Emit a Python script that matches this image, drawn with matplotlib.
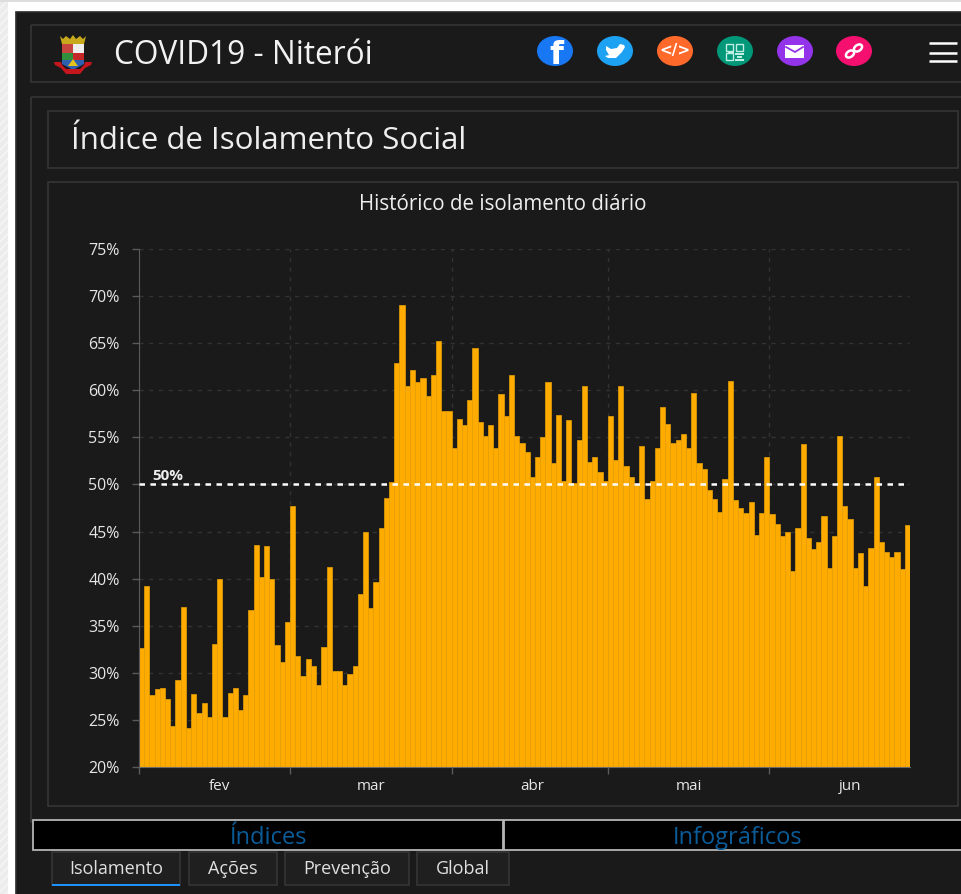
import matplotlib
matplotlib.use("Agg")
import matplotlib.pyplot as plt
import matplotlib.dates as mdates
from matplotlib.patches import Rectangle, Ellipse, Polygon
import pandas as pd

# daily values, first day 1 feb 2020
isolamento_fev = [32.6, 39.2, 27.6, 28.3, 28.4, 27.2, 24.4, 29.2, 37.0, 24.1,
                  27.7, 25.7, 26.8, 25.3, 33.1, 40.0, 25.3, 27.9, 28.4, 26.1,
                  27.6, 36.7, 43.6, 40.2, 43.5, 40.0, 33.0, 31.1, 35.4]
isolamento_mar = [47.7, 31.8, 29.7, 31.5, 30.7, 28.7, 32.7, 41.2, 30.2, 30.2,
                  28.7, 29.9, 30.7, 38.4, 45.0, 36.9, 39.6, 45.4, 48.6, 50.3,
                  62.9, 69.1, 60.5, 62.1, 60.9, 61.3, 59.4, 61.6, 65.2, 57.8,
                  57.8]
isolamento_abr = [53.9, 57.0, 56.3, 59.0, 64.5, 56.6, 55.1, 56.3, 53.9, 59.6,
                  57.3, 61.6, 55.1, 54.4, 53.4, 50.8, 52.9, 55.0, 60.9, 52.3,
                  57.4, 50.4, 56.8, 50.2, 54.7, 60.5, 52.4, 52.9, 51.3, 50.4]
isolamento_mai = [57.3, 52.6, 60.5, 52.0, 50.8, 49.9, 54.1, 48.5, 50.4, 53.9,
                  58.2, 56.4, 54.4, 54.7, 55.4, 53.9, 59.7, 52.3, 51.6, 49.4,
                  48.5, 47.1, 50.6, 61.0, 48.4, 47.5, 47.0, 48.1, 44.6, 47.0,
                  52.9]
isolamento_jun = [46.9, 45.8, 44.5, 45.0, 40.8, 45.4, 54.3, 44.3, 43.1, 43.9,
                  46.6, 41.1, 44.5, 55.1, 47.7, 46.3, 41.1, 42.7, 39.2, 43.2,
                  50.8, 43.9, 42.8, 42.3, 42.8, 41.0, 45.7]
isolamento = isolamento_fev + isolamento_mar + isolamento_abr + isolamento_mai + isolamento_jun

meses = ["fev", "mar", "abr", "mai", "jun"]
meses_pos = ["2020-02-16 12:00", "2020-03-16 12:00", "2020-04-16 12:00", "2020-05-16 12:00", "2020-06-16 12:00"]
y_ticks = [20, 25, 30, 35, 40, 45, 50, 55, 60, 65, 70, 75]
sub_abas = ["Isolamento", "Ações", "Prevenção", "Global"]

W, H = 962, 894
PANEL = "#1a1a1a"
EDGE = "#353535"
FONT = "Open Sans"

plt.rcParams["font.family"] = [FONT, "DejaVu Sans"]

fig = plt.figure(figsize=(W / 100, H / 100), dpi=100, facecolor="white")

# page furniture, in pixel coordinates
bg = fig.add_axes([0, 0, 1, 1])
bg.set_xlim(0, W)
bg.set_ylim(H, 0)
bg.axis("off")


def box(x0, y0, x1, y1, fc="none", ec=EDGE, lw=1.2, **kw):
    bg.add_patch(Rectangle((x0, y0), x1 - x0, y1 - y0, fc=fc, ec=ec, lw=lw, **kw))


box(0, 0, 8, H, fc="#ececec", ec="#f6f6f6", lw=0, hatch="////")
box(0, 0, W, 2, fc="#dddddd", ec="none", lw=0)
box(16, 12, W + 5, H + 5, fc=PANEL, ec="#2b2b2b")
box(31, 25, W + 5, 82)
box(31, 97, W + 5, 822)
box(48, 111, 958, 168)
box(48, 182, 958, 806)

bg.text(114, 56, "COVID19 - Niterói", color="#f2f2f2", fontsize=22.8, va="center")
bg.text(71, 141, "Índice de Isolamento Social", color="#eeeeee", fontsize=22.5, va="center")

# brasao
bg.add_patch(Polygon([(60, 36), (63, 39), (66, 36), (70, 39), (73, 35), (76, 39), (80, 36), (83, 39),
                      (86, 36), (84, 44), (62, 44)], fc="#c9a91c", ec="none"))
box(62, 44, 73, 53, fc="#c8453f", ec="none", lw=0)
box(73, 44, 84, 53, fc="#eeeeee", ec="none", lw=0)
box(62, 53, 73, 60, fc="#2f8f3a", ec="none", lw=0)
box(73, 53, 84, 60, fc="#c62828", ec="none", lw=0)
bg.add_patch(Polygon([(62, 60), (84, 60), (84, 64), (73, 70), (62, 64)], fc="#2f5fb0", ec="none"))
bg.add_patch(Polygon([(68, 66), (73, 59), (78, 66)], fc="#e5c21c", ec="none"))
bg.add_patch(Polygon([(54, 62), (61, 62), (62, 65), (66, 69), (80, 69), (84, 65), (85, 62), (92, 62),
                      (91, 65), (85, 68), (80, 74), (66, 74), (61, 68), (55, 65)],
                     fc="#c4161c", ec="none"))

# icones
icones = [(555, "#1877f2"), (615, "#1da1f2"), (675, "#ff6a2b"),
          (735, "#009879"), (795, "#9333ea"), (854, "#f50f6f")]
for cx, cor in icones:
    bg.add_patch(Ellipse((cx, 51), 36, 30, fc=cor, ec="none"))

bg.text(556, 55, "f", color="white", fontsize=23, fontweight="bold", ha="center", va="center",
        family="DejaVu Sans")
bg.add_patch(Polygon([(606, 46), (611, 49), (617, 48), (620, 44), (624, 45), (625, 47), (622, 52),
                      (616, 58), (608, 58), (605, 56), (609, 55), (606, 50)], fc="white", ec="none"))
bg.text(675, 51, "</>", color="white", fontsize=11, fontweight="bold", ha="center", va="center",
        family="DejaVu Sans")
for qx, qy in [(726, 44), (726, 53), (736, 44)]:
    box(qx, qy, qx + 7, qy + 7, ec="#bfeee2", lw=1)
for qx, qy, qw in [(735, 53, 9), (737, 56, 5), (735, 59, 9), (728, 51, 6)]:
    box(qx, qy, qx + qw, qy + 1.5, fc="#bfeee2", ec="none", lw=0)
box(785, 45, 804, 58, fc="white", ec="none", lw=0)
bg.plot([786, 795, 803], [47, 52, 47], color="#9333ea", lw=1.3)
for lx, ly in [(850, 54), (858, 48)]:
    bg.add_patch(Ellipse((lx, ly), 9, 6, angle=-35, fc="none", ec="white", lw=1.8))

for ly in [43, 52.5, 61]:
    bg.plot([929, 957], [ly, ly], color="white", lw=1.8, solid_capstyle="butt")

# abas
box(33, 820, 503, 850, fc="black", ec="#b5b5b5", lw=1.3)
box(504, 820, W + 5, 850, fc="black", ec="#b5b5b5", lw=1.3)
bg.text(268.5, 838, "Índices", color="#0a5c99", fontsize=17, ha="center", va="center")
bg.text(738, 838, "Infográficos", color="#0a5c99", fontsize=17, ha="center", va="center")

abas_x = [(52, 180), (189, 277), (285, 409), (417, 509)]
for (x0, x1), nome in zip(abas_x, sub_abas):
    box(x0, 852, x1, 885, fc="#1f1f1f")
    bg.text((x0 + x1) / 2, 869, nome, color="#e0e0e0", fontsize=13, ha="center", va="center")
box(52, 883.5, 180, 886, fc="#1e90ff", ec="none", lw=0)

bg.text(503, 204, "Histórico de isolamento diário", color="#eeeeee", fontsize=14.8,
        ha="center", va="center")

# grafico
ax = fig.add_axes([139 / W, 1 - 767 / H, (910 - 139) / W, (767 - 249) / H], facecolor="none")
dias = pd.date_range("2020-02-01", periods=len(isolamento), freq="D")
fim = dias[-1] + pd.Timedelta(days=1)
ax.bar(dias, isolamento, width=1, align="edge", color="#ffab00", edgecolor="#e8a206", linewidth=0.5, zorder=2)

ax.set_xlim(dias[0], fim)
ax.set_ylim(20, 75)
ax.set_yticks(y_ticks)
ax.set_yticklabels([f"{v}%" for v in y_ticks])
ax.xaxis.set_major_locator(mdates.MonthLocator())
ax.xaxis.set_major_formatter(plt.NullFormatter())
ax.set_xticks(pd.to_datetime(meses_pos), meses, minor=True)

# grade horizontal termina antes do fim do eixo
ax.grid(True, axis="x", which="major", color="#333333", linestyle=(0, (3, 4)), linewidth=1, zorder=1)
ax.hlines(y_ticks[1:], dias[0], dias[-1] + pd.Timedelta(days=0.8), color="#333333",
          linestyle=(0, (3, 4)), linewidth=1, zorder=1)
ax.tick_params(axis="y", colors="#5a5a5a", length=5, width=1, pad=9, labelsize=11.5, labelcolor="#e6e6e6")
ax.tick_params(axis="x", which="major", colors="#5a5a5a", length=5, width=1)
ax.tick_params(axis="x", which="minor", length=0, pad=9, labelsize=11, labelcolor="#e6e6e6")

for lado in ["top", "right"]:
    ax.spines[lado].set_visible(False)
ax.spines["left"].set_color("#5a5a5a")
ax.spines["bottom"].set_color("#6a6a6a")

ax.plot([dias[0], dias[-1] + pd.Timedelta(days=0.5)], [50, 50], color="white", linewidth=1.8,
        linestyle=(0, (2.2, 2.2)), zorder=3)
ax.annotate("50%", xy=(dias[0], 50), xytext=(13, 1), textcoords="offset pixels", color="#eeeeee",
            fontsize=11, fontweight="bold", va="bottom")

fig.savefig("out.png", dpi=100, facecolor=fig.get_facecolor())
